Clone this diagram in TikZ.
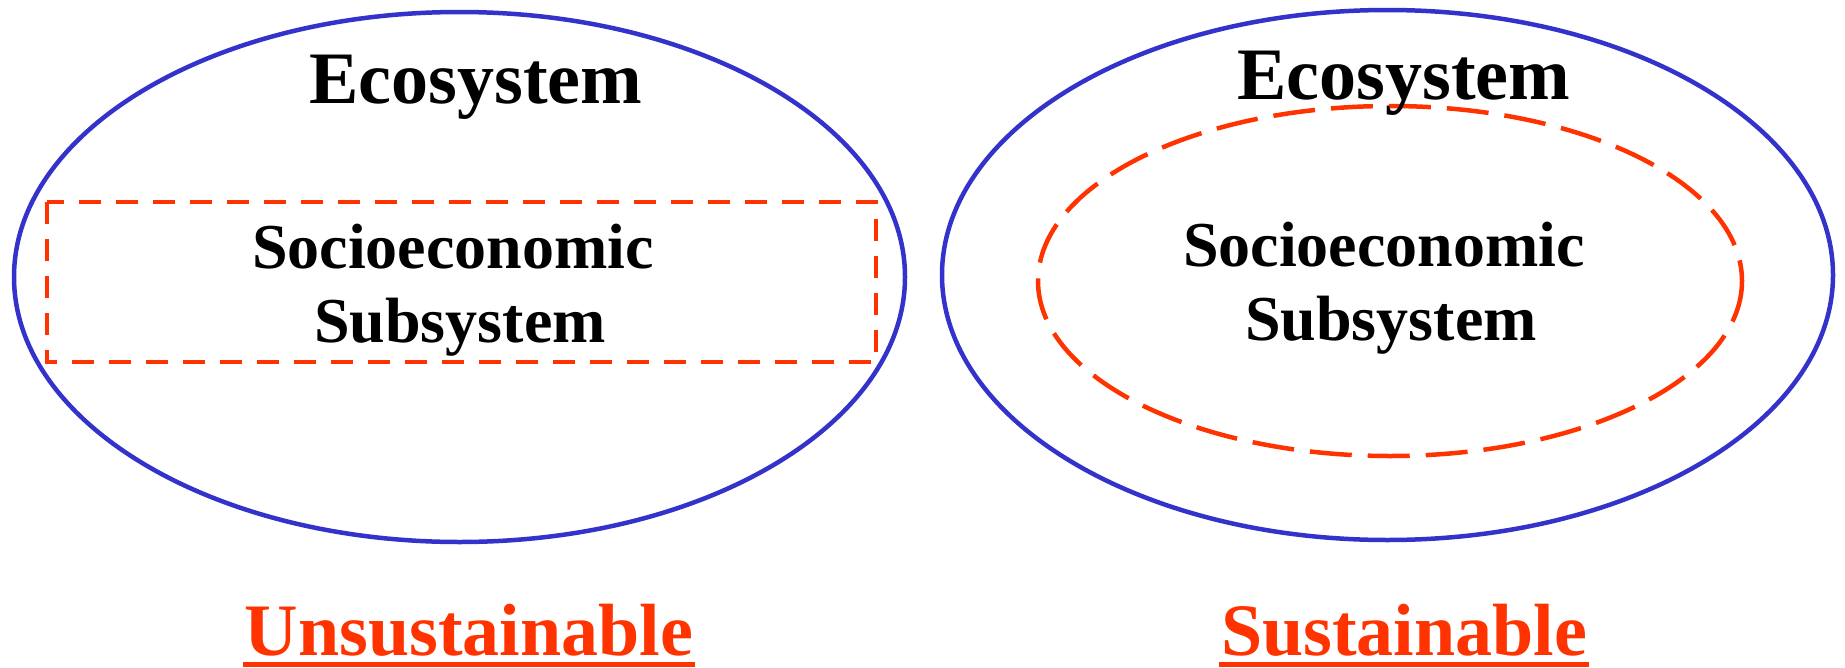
\documentclass[tikz,border=0pt]{standalone}
\usepackage{fontspec}
\setmainfont{Liberation Serif}
\definecolor{ecoblue}{HTML}{3333CC}
\definecolor{sysred}{HTML}{FF3300}
\begin{document}
\begin{tikzpicture}[x=1pt,y=-1pt,
  eco/.style={draw=ecoblue,line width=4.5pt},
  subsys/.style={draw=sysred,line width=4.5pt},
  bigtxt/.style={font=\fontsize{74}{80}\selectfont\bfseries,anchor=base,inner sep=0pt},
  midtxt/.style={font=\fontsize{64}{74}\selectfont\bfseries,anchor=base,inner sep=0pt},
  verdict/.style={font=\fontsize{74}{80}\selectfont\bfseries,anchor=base,inner sep=0pt,text=sysred}]
\useasboundingbox (0,0) rectangle (1845,667);
% left
\draw[eco] (459.5,277) ellipse [x radius=445.5, y radius=265];
\draw[subsys,dash pattern=on 22pt off 15pt] (47,202) rectangle (876,362);
\node[bigtxt] (ecoL) at (476,103) {Ecosystem};
\node[midtxt] (socL) at (453,268) {Socioeconomic};
\node[midtxt] (subL) at (460,342) {Subsystem};
\node[verdict] (unsus) at (469,655) {Unsustainable};
\draw[sysred,line width=5pt] (243,664) -- (695,664);
% right
\draw[eco] (1387.5,275) ellipse [x radius=445.5, y radius=265];
\draw[subsys,dash pattern=on 42pt off 16pt] (1390,281) ellipse [x radius=352, y radius=175];
\node[bigtxt] (ecoR) at (1404,99) {Ecosystem};
\node[midtxt] (socR) at (1384,266) {Socioeconomic};
\node[midtxt] (subR) at (1391,340) {Subsystem};
\node[verdict] (sus) at (1404,655) {Sustainable};
\draw[sysred,line width=5pt] (1219,664) -- (1589,664);
\end{tikzpicture}
\end{document}
